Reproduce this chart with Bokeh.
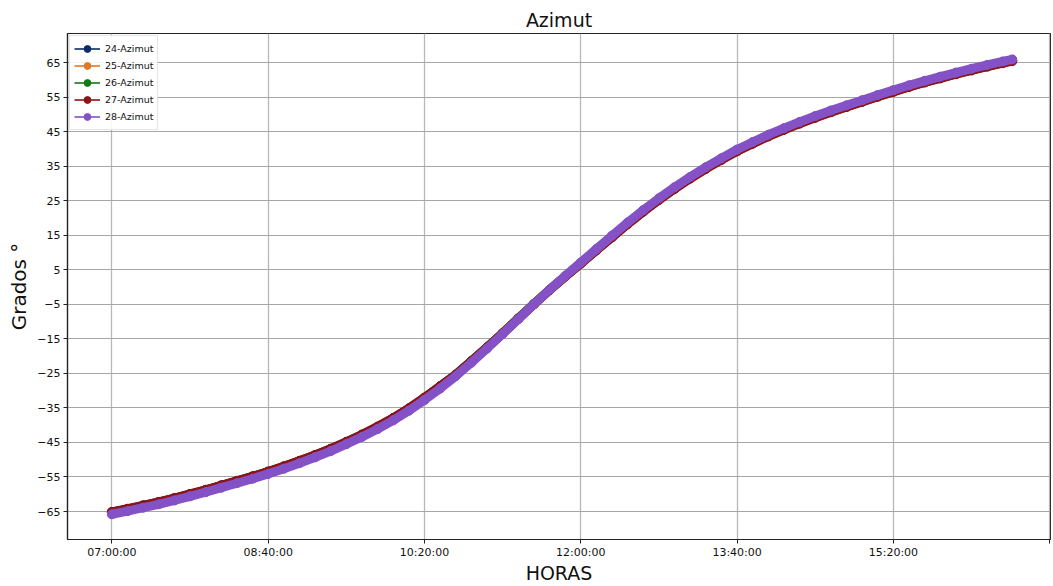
import pandas as pd
from bokeh.plotting import figure
from bokeh.models import (Range1d, FixedTicker, CustomJSTickFormatter, Legend, LegendItem)
from bokeh.embed import file_html
from bokeh.resources import INLINE

# ---------------- data ----------------
times = ["07:00", "07:10", "07:20", "07:30", "07:40", "07:50", "08:00", "08:10", "08:20", "08:30",
         "08:40", "08:50", "09:00", "09:10", "09:20", "09:30", "09:40", "09:50", "10:00", "10:10",
         "10:20", "10:30", "10:40", "10:50", "11:00", "11:10", "11:20", "11:30", "11:40", "11:50",
         "12:00", "12:10", "12:20", "12:30", "12:40", "12:50", "13:00", "13:10", "13:20", "13:30",
         "13:40", "13:50", "14:00", "14:10", "14:20", "14:30", "14:40", "14:50", "15:00", "15:10",
         "15:20", "15:30", "15:40", "15:50", "16:00", "16:10", "16:20", "16:30", "16:36"]

az24 = [-65.2, -64.3, -63.3, -62.3, -61.2, -60.0, -58.8, -57.5, -56.2, -54.9,
        -53.5, -52.0, -50.4, -48.7, -46.9, -44.9, -42.8, -40.5, -38.0, -35.2,
        -32.1, -28.8, -25.4, -21.5, -17.5, -13.4, -9.1, -4.9, -0.8, 3.1,
        6.9, 10.8, 14.6, 18.4, 22.0, 25.4, 28.6, 31.6, 34.4, 37.0,
        39.5, 41.7, 43.8, 45.7, 47.5, 49.2, 50.8, 52.3, 53.8, 55.3,
        56.7, 58.1, 59.4, 60.6, 61.8, 62.9, 64.0, 65.0, 65.6]
az25 = [-65.3, -64.4, -63.4, -62.4, -61.3, -60.1, -58.9, -57.6, -56.3, -55.0,
        -53.6, -52.1, -50.5, -48.8, -47.0, -45.0, -42.9, -40.6, -38.1, -35.3,
        -32.2, -28.9, -25.5, -21.6, -17.5, -13.4, -9.2, -5.0, -0.9, 3.0,
        6.8, 10.7, 14.5, 18.3, 21.9, 25.3, 28.5, 31.5, 34.3, 36.9,
        39.4, 41.6, 43.7, 45.6, 47.4, 49.1, 50.7, 52.2, 53.7, 55.2,
        56.6, 58.0, 59.3, 60.5, 61.7, 62.8, 63.9, 64.9, 65.5]
az26 = [-65.2, -64.3, -63.3, -62.3, -61.2, -60.0, -58.8, -57.5, -56.2, -54.9,
        -53.5, -52.0, -50.4, -48.7, -46.9, -44.9, -42.8, -40.5, -38.0, -35.2,
        -32.1, -28.8, -25.4, -21.5, -17.5, -13.4, -9.1, -4.9, -0.8, 3.1,
        6.9, 10.8, 14.6, 18.4, 22.0, 25.4, 28.6, 31.6, 34.4, 37.0,
        39.5, 41.7, 43.8, 45.7, 47.5, 49.2, 50.8, 52.3, 53.8, 55.3,
        56.7, 58.1, 59.4, 60.6, 61.8, 62.9, 64.0, 65.0, 65.6]
az27 = [-65.1, -64.2, -63.2, -62.2, -61.1, -59.9, -58.7, -57.4, -56.1, -54.8,
        -53.4, -51.9, -50.3, -48.6, -46.8, -44.8, -42.7, -40.4, -37.9, -35.1,
        -32.0, -28.7, -25.4, -21.5, -17.5, -13.4, -9.2, -5.0, -0.9, 3.0,
        6.8, 10.6, 14.4, 18.2, 21.8, 25.2, 28.4, 31.4, 34.2, 36.8,
        39.3, 41.5, 43.6, 45.5, 47.3, 49.0, 50.6, 52.1, 53.6, 55.1,
        56.5, 57.9, 59.2, 60.4, 61.6, 62.7, 63.8, 64.8, 65.4]
az28 = [-65.8, -64.9, -63.9, -62.9, -61.8, -60.6, -59.4, -58.1, -56.8, -55.5,
        -54.1, -52.6, -51.0, -49.3, -47.5, -45.5, -43.4, -41.1, -38.6, -35.8,
        -32.7, -29.4, -25.8, -21.9, -17.8, -13.6, -9.3, -5.0, -0.8, 3.2,
        7.1, 11.0, 14.9, 18.7, 22.3, 25.7, 28.9, 31.9, 34.7, 37.3,
        39.8, 42.0, 44.1, 46.0, 47.8, 49.5, 51.1, 52.6, 54.1, 55.6,
        57.0, 58.4, 59.7, 60.9, 62.1, 63.2, 64.3, 65.3, 65.9]

series_names = ["24-Azimut", "25-Azimut", "26-Azimut", "27-Azimut", "28-Azimut"]
series_values = [az24, az25, az26, az27, az28]
series_colors = ["#0d2b66", "#e07a22", "#137a17", "#8c1414", "#8452c6"]

x_tick_labels = ["07:00:00", "08:40:00", "10:20:00", "12:00:00", "13:40:00", "15:20:00", "17:00:00"]
y_ticks = [65, 55, 45, 35, 25, 15, 5, -5, -15, -25, -35, -45, -55, -65]

DAY = "2021-06-24 "
xs = pd.to_datetime([DAY + t for t in times])
xtick_ms = [pd.Timestamp(DAY + t).value // 10**6 for t in x_tick_labels]

FONT = "DejaVu Sans"

p = figure(width=1051, height=586, output_backend="svg", toolbar_location=None,
           x_axis_type="datetime",
           x_range=Range1d(pd.Timestamp(DAY + "06:31:36"), pd.Timestamp(DAY + "17:00:30")),
           y_range=Range1d(-73.1, 73.4),
           min_border_left=67, min_border_right=1, min_border_top=33, min_border_bottom=0)

p.title.text = "Azimut"
p.title.align = "center"
p.title.text_font = FONT
p.title.text_font_size = "19px"
p.title.text_font_style = "normal"
p.title.text_color = "#111111"
p.title.standoff = 6

p.outline_line_color = "#222222"
p.outline_line_width = 1.2
p.background_fill_color = "white"
p.border_fill_color = "white"

p.xgrid.grid_line_color = "#b8b8b8"
p.xgrid.grid_line_width = 1.3
p.ygrid.grid_line_color = "#a6a6a6"
p.ygrid.grid_line_width = 1.1

p.xaxis.ticker = FixedTicker(ticks=xtick_ms)
p.xaxis.formatter = CustomJSTickFormatter(code="""
const d = new Date(tick);
const h = d.getUTCHours(), m = d.getUTCMinutes(), s = d.getUTCSeconds();
if (h >= 17) { return ""; }
const pad = (v) => String(v).padStart(2, "0");
return pad(h) + ":" + pad(m) + ":" + pad(s);
""")
p.yaxis.ticker = FixedTicker(ticks=y_ticks)
p.yaxis.major_label_overrides = {v: (str(v).replace("-", "\u2212")) for v in y_ticks}

for ax in (p.xaxis, p.yaxis):
    ax.axis_line_color = "#222222"
    ax.axis_line_width = 1.2
    ax.major_tick_line_color = "#222222"
    ax.major_tick_out = 4
    ax.major_tick_in = 0
    ax.minor_tick_out = 0
    ax.minor_tick_in = 0
    ax.major_label_text_font = FONT
    ax.major_label_text_font_size = "11px"
    ax.major_label_text_color = "#111111"
    ax.major_label_standoff = 3
    ax.axis_label_text_font = FONT
    ax.axis_label_text_font_style = "normal"
    ax.axis_label_text_color = "#111111"

p.xaxis.major_label_standoff = 2
p.xaxis.axis_label = "HORAS"
p.xaxis.axis_label_text_font_size = "19px"
p.xaxis.axis_label_standoff = 0
p.yaxis.axis_label = "Grados \u00b0"
p.yaxis.axis_label_text_font_size = "20px"
p.yaxis.axis_label_standoff = 3

items = []
for name, vals, col in zip(series_names, series_values, series_colors):
    band = p.line(xs, vals, line_width=9, line_color=col, line_join="round", line_cap="round")
    thin = p.line(xs, vals, line_width=1.6, line_color=col)
    dots = p.scatter(xs, vals, size=9, marker="circle", fill_color=col, line_color=col)
    items.append(LegendItem(label=name, renderers=[thin, dots]))

legend = Legend(items=items, location="top_left")
legend.label_text_font = FONT
legend.label_text_font_size = "9.5px"
legend.label_text_color = "#111111"
legend.glyph_width = 26
legend.glyph_height = 17
legend.label_height = 17
legend.label_standoff = 5
legend.spacing = 0
legend.padding = 4
legend.margin = 2
legend.border_line_color = "#cccccc"
legend.border_line_width = 1
legend.background_fill_alpha = 0.9
p.add_layout(legend)

open("out.html", "w").write(file_html(p, INLINE))
